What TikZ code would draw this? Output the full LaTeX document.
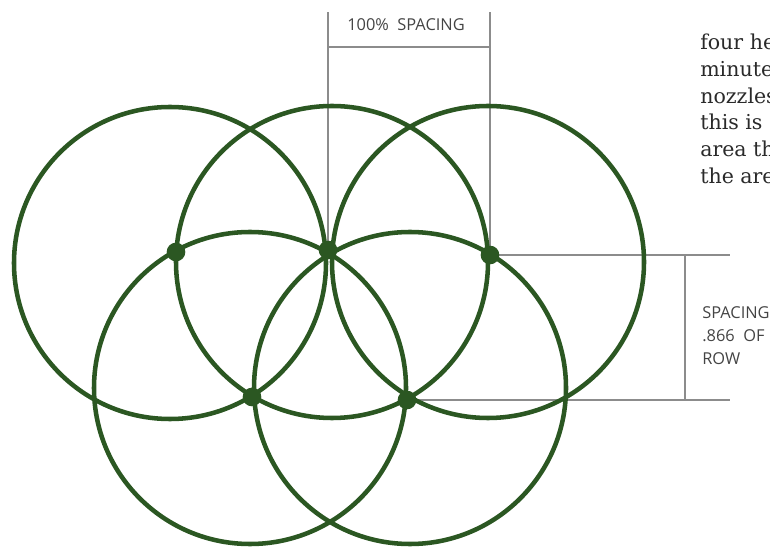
\documentclass[tikz,border=0pt]{standalone}
\usepackage{fontspec}
\setmainfont{DejaVu Serif}
\setsansfont{Open Sans}
\usetikzlibrary{positioning}
\definecolor{sprgreen}{HTML}{2B5722}
\definecolor{dimgray}{HTML}{8C8C8C}
\definecolor{labelgray}{HTML}{444444}
\definecolor{bodyink}{HTML}{2A2A2A}

\begin{document}
\begin{tikzpicture}[
  x=0.75pt,y=-0.75pt,
  ring/.style={draw=sprgreen,line width=3.4pt},
  head/.style={circle,fill=sprgreen,inner sep=0pt,minimum size=14pt},
  dimline/.style={draw=dimgray,line width=0.8pt},
  dimlabel/.style={font=\sffamily\fontsize{12.3}{17.5}\selectfont,text=labelgray,inner sep=0pt},
  bodytext/.style={font=\fontsize{15.4}{20}\selectfont,text=bodyink,inner sep=0pt,anchor=north west,align=left}
]
\useasboundingbox (0,0) rectangle (770,548);
% sprinkler heads
\coordinate (hA) at (176,252);
\coordinate (hB) at (328,250);
\coordinate (hC) at (490,255);
\coordinate (hD) at (252,397);
\coordinate (hE) at (407,400);
% circle centres
\coordinate (cA) at (170,263);
\coordinate (cB) at (332,262);
\coordinate (cC) at (488,262);
\coordinate (cD) at (250,388);
\coordinate (cE) at (410,388);
% 100% spacing dimension
\coordinate (topL) at (328,12);
\coordinate (topR) at (490,12);
\coordinate (barL) at (328,47);
\coordinate (barR) at (490,47);
\draw[dimline] (hB) -- (topL);
\draw[dimline] (hC) -- (topR);
\draw[dimline] (barL) -- (barR);
\node[dimlabel] (toplbl) at (406,25) {100\%\ \ SPACING};
% row spacing dimension
\coordinate (rowT) at (730,255);
\coordinate (rowB) at (730,400);
\coordinate (tickT) at (685,255);
\coordinate (tickB) at (685,400);
\draw[dimline] (hC) -- (rowT);
\draw[dimline] (hE) -- (rowB);
\draw[dimline] (tickT) -- (tickB);
\node[dimlabel,anchor=north west,align=left] (rowlbl) at (702,306) {SPACING\\.866\ \ OF\\ROW};
% coverage circles
\foreach \c in {cA,cB,cC,cD,cE}
  \draw[ring] (\c) circle[radius=117pt];
\foreach \h in {hA,hB,hC,hD,hE}
  \node[head] at (\h) {};
% running text
\node[bodytext] (para) at (700,34) {four he\\minute\\nozzles\\this is\\area th\\the are};
\end{tikzpicture}
\end{document}
